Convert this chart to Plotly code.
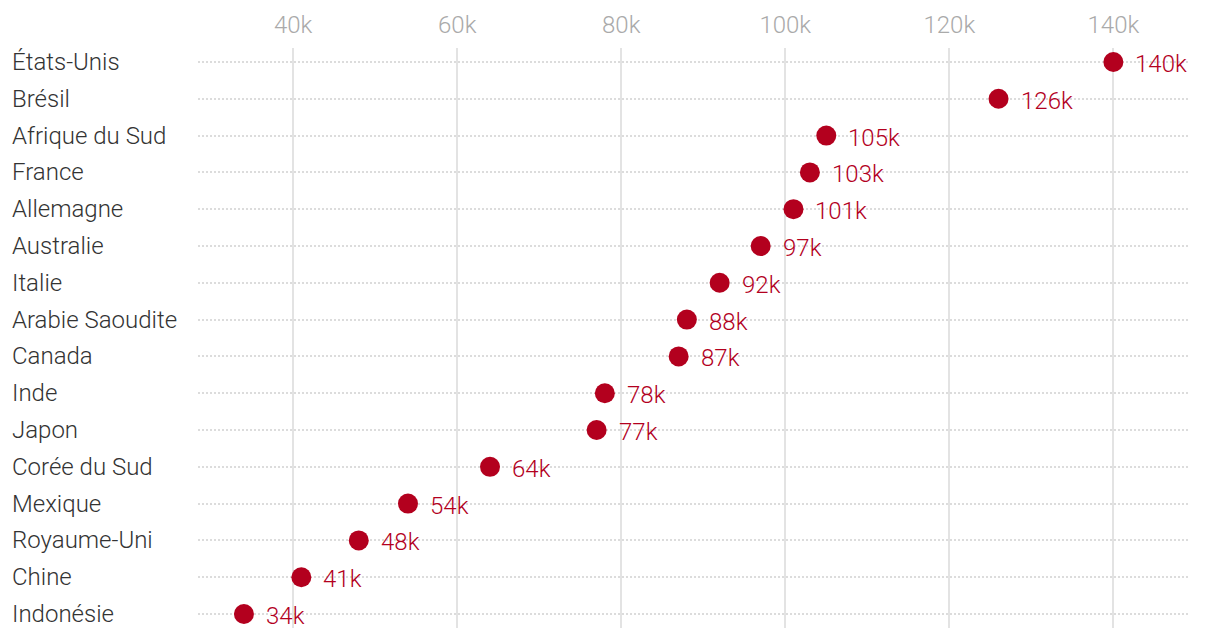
import plotly.graph_objects as go

countries = ["États-Unis", "Brésil", "Afrique du Sud", "France", "Allemagne", "Australie",
             "Italie", "Arabie Saoudite", "Canada", "Inde", "Japon", "Corée du Sud",
             "Mexique", "Royaume-Uni", "Chine", "Indonésie"]
values_k = [140, 126, 105, 103, 101, 97, 92, 88, 87, 78, 77, 64, 54, 48, 41, 34]
tick_vals = [40, 60, 80, 100, 120, 140]
tick_text = ["40k", "60k", "80k", "100k", "120k", "140k"]

idx = list(range(len(countries)))
RED = "#b3001e"
FONT = "Roboto"

fig = go.Figure()
fig.add_trace(go.Scatter(
    x=values_k, y=idx, mode="markers",
    marker=dict(size=20, color=RED),
    cliponaxis=False, hoverinfo="skip", showlegend=False,
))

for i, v in zip(idx, values_k):
    fig.add_annotation(
        x=v, y=i, xref="x", yref="y", text=f"{v}k", showarrow=False,
        xanchor="left", yanchor="middle", xshift=20, yshift=-2,
        font=dict(family=FONT, size=24, color=RED, weight=300),
    )

for i, c in zip(idx, countries):
    fig.add_annotation(
        x=(10 - 198) / 990, xref="paper", y=i, yref="y",
        text=c, showarrow=False, xanchor="left", yanchor="middle",
        font=dict(family=FONT, size=24, color="#333333", weight=300),
    )

fig.update_layout(
    width=1220, height=640,
    margin=dict(l=190, r=40, t=40, b=20, autoexpand=False),
    plot_bgcolor="white", paper_bgcolor="white",
    font=dict(family=FONT),
)
fig.update_xaxes(
    side="top", range=[28.4, 149.1], tickvals=tick_vals, ticktext=tick_text,
    showgrid=True, gridcolor="#e3e3e3", gridwidth=1.5, zeroline=False,
    tickfont=dict(family=FONT, size=24, color="#aaaaaa", weight=300),
    ticklabelstandoff=9, automargin=False,
    showline=False, ticks="", fixedrange=True,
)
fig.update_yaxes(
    range=[15.38, -0.38], tickvals=idx, showticklabels=False,
    showgrid=True, gridcolor="#dcdcdc", gridwidth=1.5, griddash="2px,2px",
    zeroline=False, showline=False, ticks="", fixedrange=True, automargin=False,
)

fig.write_html("out.html")
